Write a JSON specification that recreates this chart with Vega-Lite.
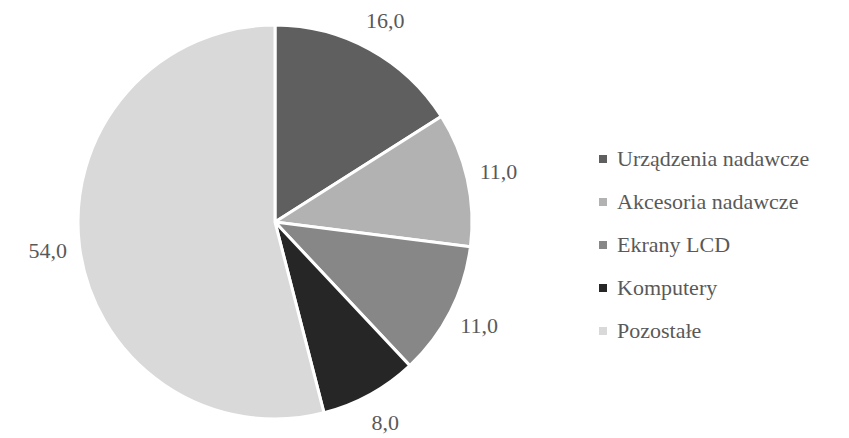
{
  "$schema": "https://vega.github.io/schema/vega-lite/v6.json",
  "width": 550,
  "height": 438,
  "autosize": "none",
  "padding": {"left": 0, "top": 3, "right": 299, "bottom": 0},
  "background": "white",
  "config": {"view": {"stroke": null}, "font": "Liberation Serif"},
  "data": {"values": [
    {"category": "Urządzenia nadawcze", "value": 16, "label": "16,0", "order": 1},
    {"category": "Akcesoria nadawcze", "value": 11, "label": "11,0", "order": 2},
    {"category": "Ekrany LCD", "value": 11, "label": "11,0", "order": 3},
    {"category": "Komputery", "value": 8, "label": "8,0", "order": 4},
    {"category": "Pozostałe", "value": 54, "label": "54,0", "order": 5}
  ]},
  "encoding": {
    "theta": {"field": "value", "type": "quantitative", "stack": true},
    "order": {"field": "order", "type": "quantitative"},
    "color": {
      "field": "category", "type": "nominal",
      "sort": ["Urządzenia nadawcze", "Akcesoria nadawcze", "Ekrany LCD", "Komputery", "Pozostałe"],
      "scale": {
        "domain": ["Urządzenia nadawcze", "Akcesoria nadawcze", "Ekrany LCD", "Komputery", "Pozostałe"],
        "range": ["#5f5f5f", "#b2b2b2", "#878787", "#262626", "#d9d9d9"]
      },
      "legend": {
        "title": null,
        "orient": "none",
        "legendX": 592,
        "legendY": 145,
        "symbolType": "square",
        "symbolSize": 64,
        "symbolStrokeWidth": 0,
        "labelFontSize": 22,
        "labelColor": "#595959",
        "labelFont": "Liberation Serif",
        "labelLimit": 300,
        "rowPadding": 21,
        "labelOffset": 3
      }
    }
  },
  "layer": [
    {"mark": {"type": "arc", "outerRadius": 197, "stroke": "white", "strokeWidth": 3}},
    {"mark": {"type": "text", "radius": 229, "fontSize": 22, "fill": "#595959", "font": "Liberation Serif", "align": "center", "baseline": "middle"},
     "encoding": {"text": {"field": "label"}, "color": {"value": "#595959"}}}
  ]
}
